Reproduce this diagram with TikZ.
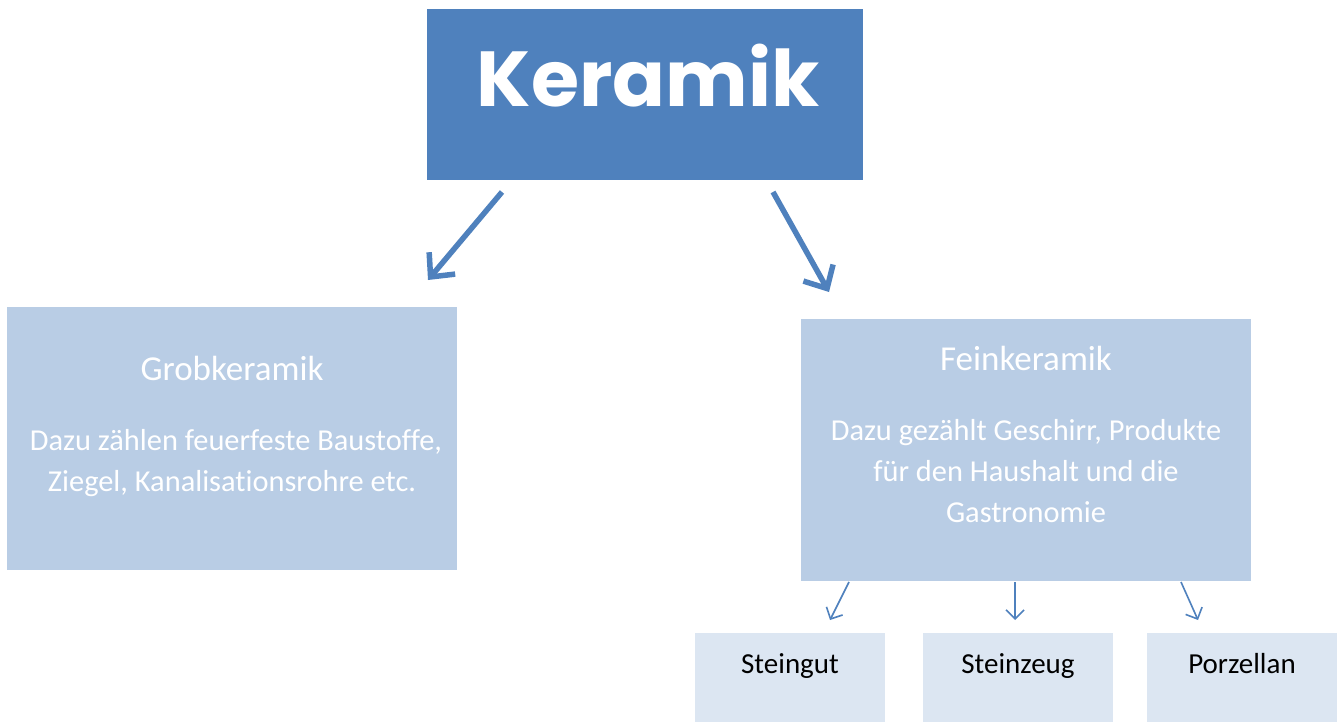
\documentclass[tikz,border=0pt]{standalone}
\usepackage{fontspec}
\setmainfont{Carlito}[Ligatures=NoCommon]
\newfontfamily\titlefont{Poppins}
\usetikzlibrary{arrows.meta}
\definecolor{darkblue}{HTML}{4F81BD}
\definecolor{midblue}{HTML}{B9CDE5}
\definecolor{paleblue}{HTML}{DCE6F2}
\tikzset{
  txt/.style={draw=none, inner sep=0pt, anchor=base},
  head/.style={txt, text=white, font=\fontsize{35}{40}\selectfont},
  body/.style={txt, text=white, font=\fontsize{30.4}{36}\selectfont},
  leaf/.style={txt, text=black, font=\fontsize{29}{34}\selectfont},
  bigarrow/.style={draw=darkblue, line width=5.5pt, -{Straight Barb[length=18pt, width=34pt, line width=5.5pt]}},
  smallarrow/.style={draw=darkblue, line width=1.6pt, -{Straight Barb[length=9pt, width=18pt, line width=1.6pt]}},
}
\begin{document}
\begin{tikzpicture}[x=1pt, y=-1pt]
\useasboundingbox (0,0) rectangle (1341,722);
\fill[white] (0,0) rectangle (1341,722);
% top box
\fill[darkblue] (427,9) rectangle (863,180);
\node[txt, text=white, font=\titlefont\bfseries\fontsize{78}{90}\selectfont] (ker) at (648,107) {Keramik};

% Grobkeramik
\fill[midblue] (7,307) rectangle (457,570);
\node[head] (grobt) at (232,380.5) {Grobkeramik};
\node[body] (grobb1) at (236,450) {Dazu zählen feuerfeste Baustoffe,};
\node[body] (grobb2) at (232,491.5) {Ziegel, Kanalisationsrohre etc.};

% Feinkeramik
\fill[midblue] (801,319) rectangle (1251,581);
\node[head] (feint) at (1026,370.5) {Feinkeramik};
\node[body] (feinb1) at (1026,440) {Dazu gezählt Geschirr, Produkte};
\node[body] (feinb2) at (1026,481.5) {für den Haushalt und die};
\node[body] (feinb3) at (1026,522.5) {Gastronomie};

% leaves
\fill[paleblue] (695,633) rectangle (885,722);
\node[leaf] (s1) at (790,673) {Steingut};
\fill[paleblue] (923,633) rectangle (1113,722);
\node[leaf] (s2) at (1018,673) {Steinzeug};
\fill[paleblue] (1147,633) rectangle (1337,722);
\node[leaf] (s3) at (1242,673) {Porzellan};

% arrows
\coordinate (a1s) at (502,192);
\coordinate (a1e) at (428,280);
\coordinate (a2s) at (773,192);
\coordinate (a2e) at (829,292);
\draw[bigarrow] (a1s) -- (a1e);
\draw[bigarrow] (a2s) -- (a2e);

\coordinate (b1s) at (849,582);
\coordinate (b1e) at (830,620);
\coordinate (b2s) at (1015,582);
\coordinate (b2e) at (1015,620);
\coordinate (b3s) at (1181,582);
\coordinate (b3e) at (1198,620);
\draw[smallarrow] (b1s) -- (b1e);
\draw[smallarrow] (b2s) -- (b2e);
\draw[smallarrow] (b3s) -- (b3e);
\end{tikzpicture}
\end{document}
